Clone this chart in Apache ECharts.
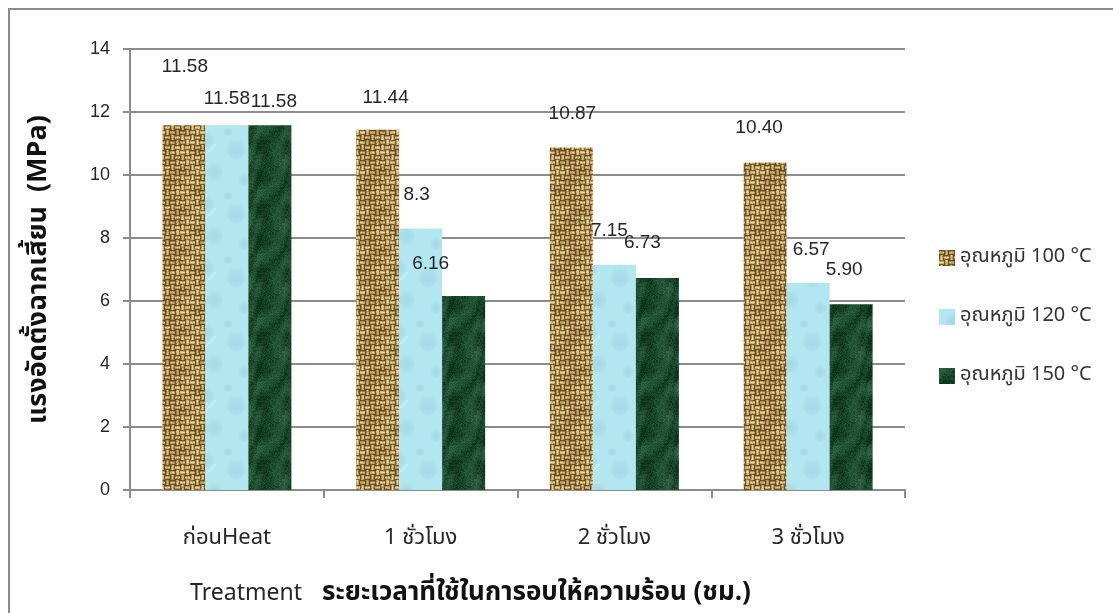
<!DOCTYPE html>
<html>
<head>
<meta charset="utf-8">
<script src="https://cdn.jsdelivr.net/npm/echarts@6/dist/echarts.min.js"></script>
<style>
  html, body { margin: 0; padding: 0; background: #fff; }
  #chart { width: 1113px; height: 613px; }
</style>
</head>
<body>
<div id="chart"></div>
<script>
// Compressive strength perpendicular to grain after heat treatment
const categories = ['ก่อนHeat', '1 ชั่วโมง', '2 ชั่วโมง', '3 ชั่วโมง'];
const seriesNames = ['อุณหภูมิ 100 °C', 'อุณหภูมิ 120 °C', 'อุณหภูมิ 150 °C'];
const temp100 = ['11.58', '11.44', '10.87', '10.40'];
const temp120 = ['11.58', '8.3', '7.15', '6.57'];
const temp150 = ['11.58', '6.16', '6.73', '5.90'];
const yTicks = { min: 0, max: 14, interval: 2 };

// Per-label nudges [dx, rise above bar top] for the hand-placed value labels
const labelNudge = [
  [[1, 60], [8, 33], [1, 35], [-6, 36]],
  [[0, 28], [-4, 35], [-5, 36], [3, 35]],
  [[4, 25], [-33, 34], [-15, 37], [-7, 36]]
];

const FONT = '"Liberation Sans", "Noto Sans", "DejaVu Sans", sans-serif';
const THAI = '"Noto Sans Thai", "Loma", "Garuda", "Norasi", "Liberation Sans", "DejaVu Sans", sans-serif';

// ---- texture fills ----
const TAU = Math.PI * 2;
function hash(x, y) {
  const s = Math.sin(x * 12.9898 + y * 78.233) * 43758.5453;
  return s - Math.floor(s);
}
function lerp(a, b, t) { return a + (b - a) * t; }
function mix(c1, c2, t) {
  t = Math.max(0, Math.min(1, t));
  return [lerp(c1[0], c2[0], t), lerp(c1[1], c2[1], t), lerp(c1[2], c2[2], t)];
}
function pixelTile(w, h, fn) {
  const c = document.createElement('canvas');
  c.width = w; c.height = h;
  const ctx = c.getContext('2d');
  const img = ctx.createImageData(w, h);
  for (let y = 0; y < h; y++) {
    for (let x = 0; x < w; x++) {
      const col = fn(x, y);
      const i = (y * w + x) * 4;
      img.data[i] = col[0]; img.data[i + 1] = col[1]; img.data[i + 2] = col[2]; img.data[i + 3] = 255;
    }
  }
  ctx.putImageData(img, 0, 0);
  return c;
}

// woven burlap (tile wraps seamlessly)
const burlap = pixelTile(40, 40, (x, y) => {
  const B = 5;
  const bx = Math.floor(x / B), by = Math.floor(y / B);
  const horiz = (bx * 3 + by) % 2 === 0;
  const t = horiz ? y % B : x % B;
  let v = [0.12, 0.65, 1.0, 0.75, 0.22][t];
  const blot = 0.5 + 0.5 * Math.sin(TAU * x / 40 + 1.8 * Math.sin(TAU * y / 40)) * Math.cos(TAU * 2 * y / 40);
  v -= blot * 0.35;
  v += (hash(x, y) - 0.5) * 0.3;
  return mix([108, 76, 30], [244, 224, 160], v);
});

// water droplets
const water = (function () {
  const c = document.createElement('canvas');
  c.width = 64; c.height = 64;
  const ctx = c.getContext('2d');
  ctx.fillStyle = '#b2e6f0';
  ctx.fillRect(0, 0, 64, 64);
  const drops = [[14, 12, 9], [44, 22, 11], [22, 44, 10], [52, 52, 7], [6, 32, 5], [36, 4, 5]];
  for (const [cx, cy, r] of drops) {
    for (const ox of [-64, 0, 64]) for (const oy of [-64, 0, 64]) {
      const g = ctx.createRadialGradient(cx + ox, cy + oy, 1, cx + ox, cy + oy, r);
      g.addColorStop(0, 'rgba(150,208,222,0.55)');
      g.addColorStop(0.75, 'rgba(160,214,228,0.35)');
      g.addColorStop(1, 'rgba(200,240,248,0.0)');
      ctx.fillStyle = g;
      ctx.beginPath();
      ctx.arc(cx + ox, cy + oy, r, 0, Math.PI * 2);
      ctx.fill();
    }
  }
  ctx.strokeStyle = 'rgba(225,250,255,0.45)';
  ctx.lineWidth = 1.5;
  ctx.beginPath(); ctx.moveTo(0, 40); ctx.lineTo(24, 16); ctx.stroke();
  return c;
})();

// dark green marble (periodic veins so the tile wraps)
const marble = pixelTile(64, 64, (x, y) => {
  const u = TAU * x / 64, w = TAU * y / 64;
  const a = Math.sin(2 * u + w + 1.6 * Math.sin(w));
  const b = Math.sin(u - 2 * w + 1.3 * Math.cos(u));
  const c = Math.sin(3 * u + 2 * w + 2 * Math.sin(2 * u));
  let v = 0.26 + 0.1 * a + 0.08 * b + 0.07 * c + (hash(x, y) - 0.5) * 0.28;
  return mix([8, 46, 22], [84, 152, 108], v);
});

const fills = [burlap, water, marble].map(img => ({ image: img, repeat: 'repeat' }));
const seriesData = [temp100, temp120, temp150];

const chart = echarts.init(document.getElementById('chart'), null, { renderer: 'canvas' });

const series = seriesData.map((vals, s) => ({
  name: seriesNames[s],
  type: 'bar',
  barWidth: 43,
  barGap: '0%',
  itemStyle: { color: fills[s] },
  data: vals.map((v, i) => ({
    value: parseFloat(v),
    label: {
      offset: [labelNudge[s][i][0], -(labelNudge[s][i][1] - 11)]
    }
  })),
  label: {
    show: true,
    position: 'top',
    distance: 0,
    fontFamily: FONT,
    fontSize: 19,
    color: '#262626',
    formatter: p => vals[p.dataIndex]
  }
}));

chart.setOption({
  animation: false,
  backgroundColor: '#fff',
  grid: { left: 130, right: 208, top: 49, bottom: 123 },
  legend: {
    orient: 'vertical',
    left: 934,
    top: 243,
    itemWidth: 16,
    itemHeight: 16,
    itemGap: 39,
    icon: 'rect',
    textStyle: { fontFamily: THAI, fontSize: 20, color: '#333' },
    data: seriesNames
  },
  xAxis: {
    type: 'category',
    data: categories,
    axisLine: { lineStyle: { color: '#8c8c8c', width: 2 } },
    axisTick: { show: true, alignWithLabel: false, length: 8, lineStyle: { color: '#8c8c8c', width: 2 } },
    axisLabel: { fontFamily: THAI, fontSize: 22, color: '#262626', margin: 39 },
    name: '{a|Treatment}      {b|ระยะเวลาที่ใช้ในการอบให้ความร้อน (ชม.)}',
    nameLocation: 'middle',
    nameGap: 92,
    nameTextStyle: {
      padding: [0, 94, 0, 0],
      rich: {
        a: { fontFamily: THAI, fontSize: 23, color: '#262626' },
        b: { fontFamily: THAI, fontSize: 26, fontWeight: 'bold', color: '#111' }
      }
    }
  },
  yAxis: {
    type: 'value',
    min: yTicks.min,
    max: yTicks.max,
    interval: yTicks.interval,
    axisLine: { show: true, lineStyle: { color: '#8c8c8c', width: 2 } },
    axisTick: { show: true, length: 7, lineStyle: { color: '#8c8c8c', width: 2 } },
    splitLine: { lineStyle: { color: '#8c8c8c', width: 2 } },
    axisLabel: { fontFamily: FONT, fontSize: 18, color: '#262626', margin: 20 },
    name: 'แรงอัดตั้งฉากเสี้ยน  (MPa)',
    nameLocation: 'middle',
    nameGap: 76,
    nameTextStyle: { fontFamily: THAI, fontSize: 27, fontWeight: 'bold', color: '#111' }
  },
  graphic: [{
    type: 'rect',
    silent: true,
    shape: { x: 9, y: 9, width: 1300, height: 800 },
    style: { fill: 'none', stroke: '#8c8c8c', lineWidth: 2 }
  }],
  series: series
});
</script>
</body>
</html>
